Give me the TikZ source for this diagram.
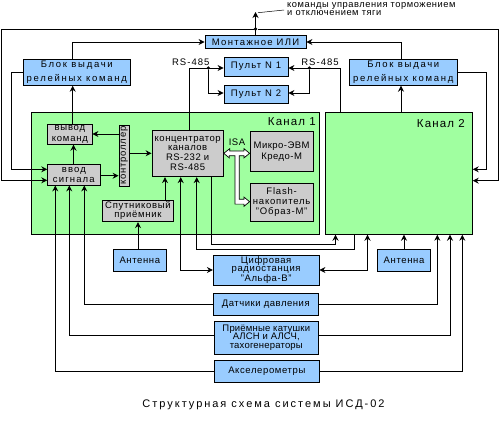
\documentclass[tikz,border=0pt]{standalone}
\usepackage{fontspec}
\usepackage{graphicx}
\setmainfont{Liberation Sans}
\usetikzlibrary{arrows.meta}
\definecolor{bl}{RGB}{153,204,255}
\definecolor{gn}{RGB}{160,255,160}
\definecolor{gy}{RGB}{204,204,204}
\newcommand\lsp[3]{\fontsize{#1}{#2}\selectfont\addfontfeature{LetterSpace=#3}}
\begin{document}
\begin{tikzpicture}[x=1pt,y=-1pt,
  box/.style={draw, line width=0.85pt, inner sep=0pt, align=center},
  bbox/.style={box, fill=bl},
  gbox/.style={box, fill=gy},
  chan/.style={box, fill=gn},
  wire/.style={line width=0.85pt},
  tipS/.tip={Stealth[length=6pt,width=6pt,inset=2pt]},
  arr/.style={wire, -tipS},
  darr/.style={wire, tipS-tipS},
  dotn/.style={circle, fill, inner sep=0pt, minimum size=3.6pt},
  lbl/.style={inner sep=0pt},
]
\useasboundingbox (0,0) rectangle (500,420);

% channels
\node[chan, minimum width=287.3, minimum height=121.5] (ch1) at (175.35,173.25) {};
\node[chan, minimum width=147, minimum height=122] (ch2) at (398.8,173.3) {};
\node[lbl, anchor=east, font=\lsp{11.5}{13}{10}] (ch1t) at (316,122) {Канал 1};
\node[lbl, anchor=east, font=\lsp{11.5}{13}{10}] (ch2t) at (465,124) {Канал 2};

% top boxes
\node[bbox, minimum width=101, minimum height=12.5, font=\lsp{9.5}{10}{14}] (montazh) at (255.5,42) {Монтажное ИЛИ};
\node[bbox, minimum width=64, minimum height=19, font=\lsp{9.5}{10}{13}] (p1) at (256,66.6) {Пульт N 1};
\node[bbox, minimum width=64, minimum height=18, font=\lsp{9.5}{10}{13}] (p2) at (256,94.3) {Пульт N 2};
\node[bbox, minimum width=107, minimum height=26, font=\lsp{9.5}{14.3}{18}] (blokL) at (76.8,72.3) {Блок выдачи\\релейных команд};
\node[bbox, minimum width=108, minimum height=26, font=\lsp{9.5}{14.3}{18}] (blokR) at (403.3,72.3) {Блок выдачи\\релейных команд};

% channel 1 internals
\node[gbox, minimum width=44.3, minimum height=20.3, font=\lsp{9.5}{11}{8.5}] (vyvod) at (69.85,134.15) {вывод\\команд};
\node[gbox, minimum width=52.3, minimum height=21, font=\lsp{9.5}{10}{12}] (vvod) at (73.85,174.5) {ввод\\сигнала};
\node[gbox, minimum width=10.7, minimum height=61, font=\lsp{9.5}{10}{8.5}] (ctrl) at (124.35,155.5) {\rotatebox{90}{контроллер}};
\node[gbox, minimum width=70.6, minimum height=21.7, font=\lsp{9.5}{9}{7.5}] (sput) at (138,210.85) {Спутниковый\\приёмник};
\node[gbox, minimum width=71.3, minimum height=46.7, font=\lsp{9.5}{9.8}{5.5}] (conc) at (187.65,153.35) {концентратор\\каналов\\RS-232 и\\RS-485};
\node[gbox, minimum width=63.3, minimum height=40, font=\lsp{9.5}{10.5}{5}] (micro) at (281.65,151.7) {Микро-ЭВМ\\Кредо-М};
\node[gbox, minimum width=63.3, minimum height=38.4, font=\lsp{9.5}{10}{8.5}] (flash) at (281.65,202.5) {Flash-\\накопитель\\"Образ-М"};

% bottom boxes
\node[bbox, minimum width=53, minimum height=22, font=\lsp{9.5}{10}{6.5}] (ant1) at (139.8,260.3) {Антенна};
\node[bbox, minimum width=52.6, minimum height=22, font=\lsp{9.5}{10}{6.5}] (ant2) at (404,260.3) {Антенна};
\node[bbox, minimum width=105.7, minimum height=30, font=\lsp{9.5}{8.8}{6.5}] (radio) at (266.15,270) {Цифровая\\радиостанция\\"Альфа-В"};
\node[bbox, minimum width=105, minimum height=21.7, font=\lsp{9.5}{10}{5.5}] (dat) at (265.8,304.15) {Датчики давления};
\node[bbox, minimum width=104, minimum height=33.3, font=\lsp{9.5}{8.9}{2}] (kat) at (266.3,337.65) {Приёмные катушки\\АЛСН и АЛСЧ,\\тахогенераторы};
\node[bbox, minimum width=105, minimum height=22.3, font=\lsp{9.5}{10}{6.5}] (acc) at (266.8,371.15) {Акселерометры};

% texts
\node[lbl, anchor=west, align=left, font=\lsp{9.3}{8.6}{6}] (topcap) at (287,9) {команды управления торможением\\и отключением тяги};
\node[lbl, font=\lsp{9.5}{10}{11}] (rsl) at (190.8,62.3) {RS-485};
\node[lbl, font=\lsp{9.5}{10}{11}] (rsr) at (320,62.3) {RS-485};
\node[lbl, font=\lsp{11}{13}{18}] (title) at (263.5,405) {Структурная схема системы ИСД-02};

% top junction
\node[dotn] (jt) at (montazh.north |- 0,29) {};
\coordinate (tip) at (montazh.north |- 0,12);
\draw[arr] (montazh.north) -- (tip);
\draw[line width=0.5pt] ([xshift=2.5pt,yshift=-0.7pt]tip) -- ([xshift=-3pt,yshift=-1pt]topcap.west);
\draw[arr] (jt) -- (1.5,29) |- (vvod.west |- 0,180.3);
\draw[arr] (jt) -- (498.3,29) |- (ch2.east |- 0,180.7);

% relay blocks
\draw[arr] (blokL.north -| 72.7,0) |- (montazh.west);
\draw[arr] (blokR.north -| 401,0) |- (montazh.east);
\draw[arr] (blokL.west) -| (11.7,169.3) -- (vvod.west |- 0,169.3);
\draw[arr] (blokR.east) -| (486,169.3) -- (ch2.east |- 0,169.3);
\draw[arr] (vyvod.north -| 72.7,0) -- (blokL.south -| 72.7,0);
\draw[arr] (ch2.north -| 401,0) -- (blokR.south -| 401,0);

% RS-485
\node[dotn] (jl) at (208.3,68) {};
\node[dotn] (jr) at (309.3,68) {};
\draw[arr] (conc.north -| 189,0) |- (p1.west |- 0,68);
\draw[arr] (jl) |- (p2.west |- 0,93);
\draw[arr] (ch2.north -| 340.5,0) |- (p1.east |- 0,68);
\draw[arr] (jr) |- (p2.east |- 0,93);

% channel 1 internal wiring
\draw[arr] (vvod.north -| 73.5,0) -- (vyvod.south -| 73.5,0);
\draw[arr] (ctrl.west |- 0,134) -- (vyvod.east |- 0,134);
\draw[arr] (vvod.east |- 0,175.7) -- (ctrl.west |- 0,175.7);
\draw[arr] (ctrl.east |- 0,153.3) -- (conc.west |- 0,153.3);
\draw[arr] (sput.north -| 165,0) -- (conc.south -| 165,0);
\draw[arr] (ant1.north -| sput.south) -- (sput.south);
\draw[arr] (ant2.north) -- (ant2.north |- ch2.south);

% ISA bus
\draw[line width=0.7pt, fill=white]
  (conc.east |- 0,153.3) -- ++(6,-4.6) -- ++(0,2.4) -- (244,150.9) -- (244,148.7) -- (micro.west |- 0,153.3)
  -- (244,157.9) -- (244,155.7) -- (239.3,155.7) -- (239.3,199.3) -- (244,199.3) -- (244,197.1)
  -- (flash.west |- 0,201.7) -- (244,206.3) -- (244,204.1) -- (235,204.1) -- (235,155.7)
  -- (229.3,155.7) -- (229.3,157.9) -- cycle;
\node[lbl, font=\lsp{9.5}{10}{5}] (isa) at (237,142.3) {ISA};

% channel interconnects and radio
\draw[darr] (conc.south -| 180.7,0) |- (radio.west);
\draw[darr] (ch2.south -| 367.5,0) |- (radio.east);
\draw[arr] (conc.south -| 211.5,0) |- (335.5,244) -- (ch2.south -| 335.5,0);
\draw[arr] (ch2.south -| 354,0) |- (196.7,249) -- (conc.south -| 196.7,0);

% sensors
\draw[arr] (dat.west) -| (vvod.south -| 84.3,0);
\draw[arr] (dat.east) -| (ch2.south -| 437.3,0);
\draw[arr] (kat.west |- 0,335.3) -| (vvod.south -| 69.3,0);
\draw[arr] (kat.east |- 0,335.3) -| (ch2.south -| 450,0);
\draw[arr] (acc.west) -| (vvod.south -| 55.3,0);
\draw[arr] (acc.east) -| (ch2.south -| 462.3,0);
\end{tikzpicture}
\end{document}
